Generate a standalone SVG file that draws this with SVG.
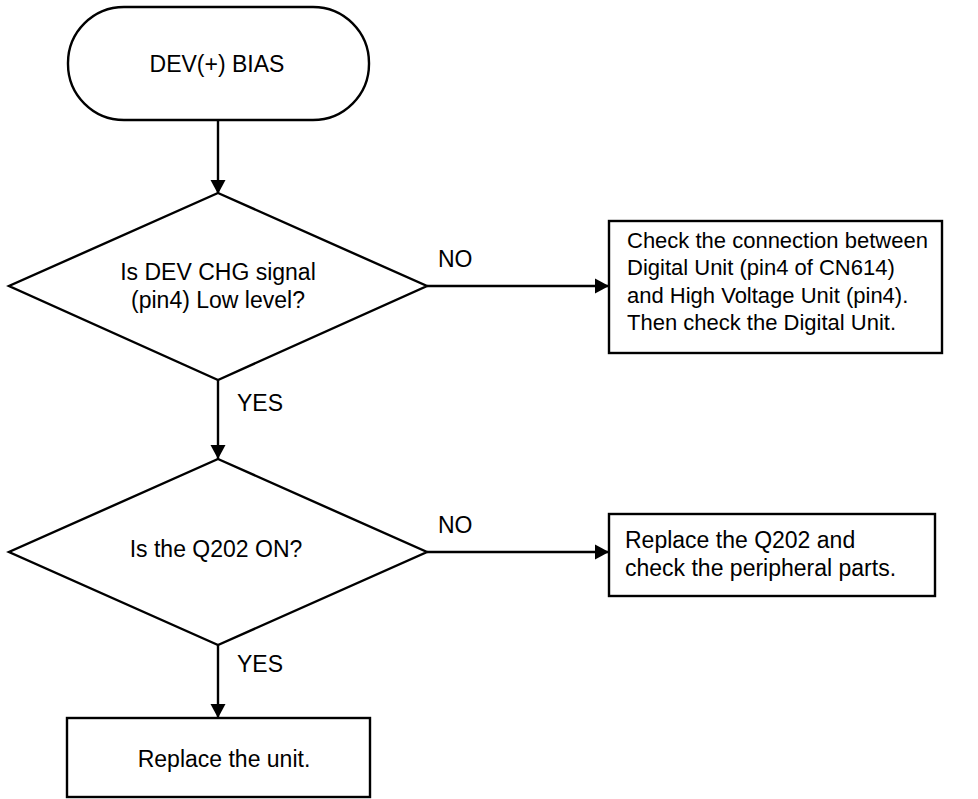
<svg xmlns="http://www.w3.org/2000/svg" width="978" height="799" viewBox="0 0 978 799">
<defs>
<style>
.shape{fill:#fff;stroke:#000;stroke-width:2.4}
.line{fill:none;stroke:#000;stroke-width:2.4}
text{font-family:"Liberation Sans",Arial,sans-serif;font-size:23px;fill:#000}
.c{text-anchor:middle}
.n{font-size:22px}
</style>
<marker id="arr" markerWidth="16" markerHeight="16" viewBox="0 0 16 16" refX="14" refY="8" orient="auto" markerUnits="userSpaceOnUse">
<path d="M0,0.5 L14,8 L0,15.5 Z" fill="#000"/>
</marker>
</defs>
<rect width="978" height="799" fill="#fff"/>
<g id="connectors">
<line class="line" x1="218" y1="120" x2="218" y2="194" marker-end="url(#arr)"/>
<line class="line" x1="218" y1="380" x2="218" y2="459" marker-end="url(#arr)"/>
<line class="line" x1="218" y1="645" x2="218" y2="718" marker-end="url(#arr)"/>
<line class="line" x1="427" y1="286" x2="609" y2="286" marker-end="url(#arr)"/>
<line class="line" x1="427" y1="552" x2="609" y2="552" marker-end="url(#arr)"/>
<text x="438" y="267">NO</text>
<text x="237" y="411">YES</text>
<text x="438" y="533">NO</text>
<text x="237" y="672">YES</text>
</g>
<g id="start">
<rect class="shape" x="68" y="7" width="301" height="113" rx="56" ry="56"/>
<text class="c" x="217" y="72">DEV(+) BIAS</text>
</g>
<g id="decision1">
<polygon class="shape" points="218,193 427,286 218,380 9,286"/>
<text class="c" x="218" y="280">Is DEV CHG signal</text>
<text class="c" x="218" y="308">(pin4) Low level?</text>
</g>
<g id="check-connection">
<rect class="shape" x="609" y="221" width="333" height="132"/>
<text class="n" x="627" y="248">Check the connection between</text>
<text class="n" x="627" y="275">Digital Unit (pin4 of CN614)</text>
<text class="n" x="627" y="303">and High Voltage Unit (pin4).</text>
<text class="n" x="627" y="330">Then check the Digital Unit.</text>
</g>
<g id="decision2">
<polygon class="shape" points="218,459 427,552 218,645 9,552"/>
<text class="c" x="216" y="557">Is the Q202 ON?</text>
</g>
<g id="replace-q202">
<rect class="shape" x="609" y="514" width="326" height="82"/>
<text x="625" y="548">Replace the Q202 and</text>
<text x="625" y="576">check the peripheral parts.</text>
</g>
<g id="replace-unit">
<rect class="shape" x="67" y="718" width="303" height="79"/>
<text class="c" x="224" y="767">Replace the unit.</text>
</g>
</svg>
